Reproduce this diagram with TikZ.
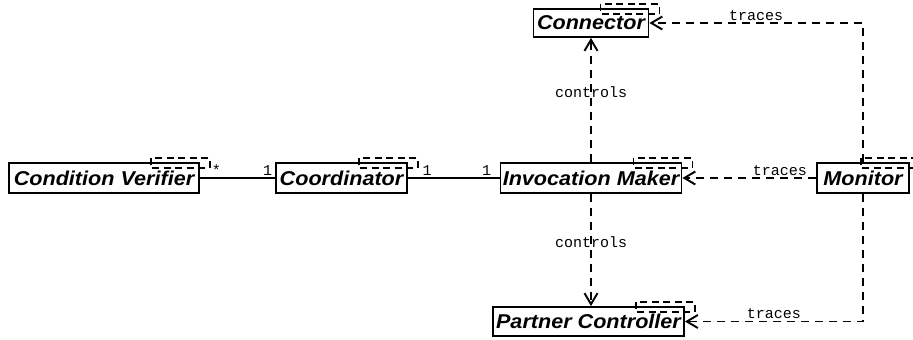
\documentclass[tikz,border=0pt]{standalone}
\usepackage{fontspec}
\setmainfont{Liberation Sans}
\newfontfamily\classfont[FakeStretch=1.08]{Liberation Sans}
\newfontfamily\labelfont{Liberation Mono}
\usetikzlibrary{arrows.meta}
\newcommand{\opn}{-{Straight Barb[length=11pt,width=13pt]}}
\newcommand{\tmpl}[1]{\draw[tmplbox] ([shift={(-49,-4)}]#1.north east) rectangle ([shift={(10,6)}]#1.north east);}
\tikzset{
  classbox/.style={draw, line width=1.9pt, inner sep=0pt, font=\classfont\bfseries\itshape\fontsize{20}{24}\selectfont},
  tmplbox/.style={line width=1.7pt, dash pattern=on 7pt off 4.5pt},
  assoc/.style={line width=1.9pt},
  dep/.style={line width=1.9pt, dash pattern=on 8pt off 6pt},
  lbl/.style={inner sep=1.5pt, font=\labelfont\fontsize{15}{16}\selectfont},
}

\begin{document}
\begin{tikzpicture}[x=1pt,y=-1pt]
\useasboundingbox (0,0) rectangle (913,340);
%classes
\node[classbox, minimum width=190, minimum height=30] (verifier) at (104,178) {Condition Verifier};
\node[classbox, minimum width=131, minimum height=30] (coordinator) at (341.5,178) {Coordinator};
\node[classbox, minimum width=181, minimum height=30] (invoker) at (591,178) {Invocation Maker};
\node[classbox, minimum width=92, minimum height=30] (monitor) at (863,178) {Monitor};
\node[classbox, minimum width=115, minimum height=28] (connector) at (591,23) {Connector};
\node[classbox, minimum width=191, minimum height=29] (partner) at (588.5,321.5) {Partner Controller};
%template parameters
\tmpl{verifier}
\tmpl{coordinator}
\tmpl{invoker}
\tmpl{monitor}
\tmpl{connector}
\tmpl{partner}
%associations
\draw[assoc] (verifier) -- (coordinator)
  node[lbl, pos=0.22, above] {*}
  node[lbl, pos=0.9, above] {1};
\draw[assoc] (coordinator) -- (invoker)
  node[lbl, pos=0.21, above] {1}
  node[lbl, pos=0.86, above] {1};
%dependencies
\draw[dep,\opn] (invoker) -- (connector) node[lbl, pos=0.56] {controls};
\draw[dep,\opn] (invoker) -- (invoker |- partner.north) node[lbl, pos=0.43] {controls};
\draw[dep,\opn] (monitor) -- (invoker) node[lbl, pos=0.27, above] {traces};
\draw[dep,\opn] (monitor.north) |- (connector.east) node[lbl, pos=0.75, above] {traces};
\draw[dep,\opn] (monitor.south) |- (partner.east) node[lbl, pos=0.75, above] {traces};
\end{tikzpicture}
\end{document}
